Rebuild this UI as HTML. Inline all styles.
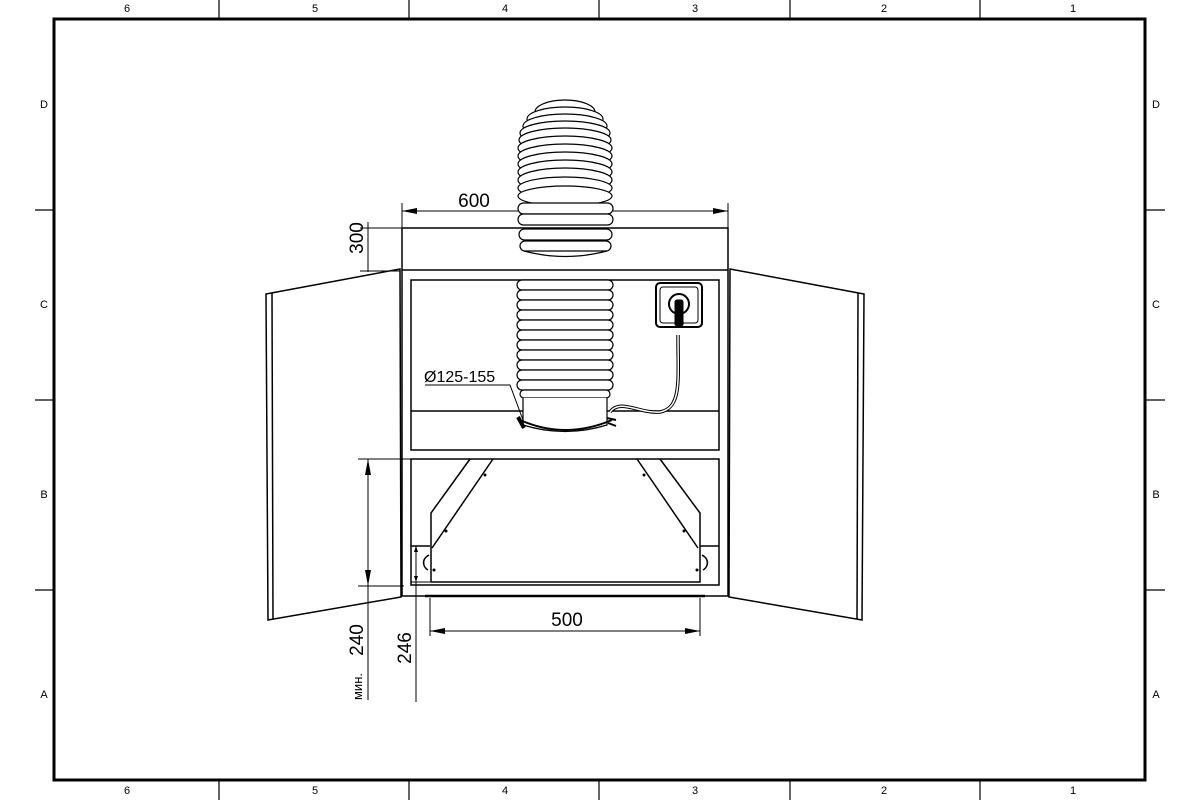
<!DOCTYPE html>
<html><head><meta charset="utf-8"><style>
html,body{margin:0;padding:0;background:#fff}
svg{display:block}
text{font-family:"Liberation Sans",sans-serif;fill:#000}
</style></head><body>
<svg width="1200" height="800" viewBox="0 0 1200 800" xmlns="http://www.w3.org/2000/svg">
<g fill="none" stroke="#000">
<!-- frame -->
<rect x="54" y="19" width="1091" height="761" stroke-width="3"/>
<g stroke-width="1.2">
<line x1="219" y1="0" x2="219" y2="19"/><line x1="409" y1="0" x2="409" y2="19"/><line x1="599" y1="0" x2="599" y2="19"/><line x1="790" y1="0" x2="790" y2="19"/><line x1="980" y1="0" x2="980" y2="19"/>
<line x1="219" y1="780" x2="219" y2="800"/><line x1="409" y1="780" x2="409" y2="800"/><line x1="599" y1="780" x2="599" y2="800"/><line x1="790" y1="780" x2="790" y2="800"/><line x1="980" y1="780" x2="980" y2="800"/>
<line x1="35" y1="210" x2="54" y2="210"/><line x1="35" y1="400" x2="54" y2="400"/><line x1="35" y1="590" x2="54" y2="590"/>
<line x1="1145" y1="210" x2="1165" y2="210"/><line x1="1145" y1="400" x2="1165" y2="400"/><line x1="1145" y1="590" x2="1165" y2="590"/>
</g>

<!-- doors -->
<g stroke-width="1.5">
<path d="M266,294 L400,269 L401,597 L268,620 Z"/>
<line x1="272" y1="293" x2="273" y2="619"/>
<path d="M864,294 L730,269 L729,597 L862,620 Z"/>
<line x1="858" y1="293" x2="857" y2="619"/>
</g>

<!-- top hose -->
<g stroke-width="1.2" fill="#fff">
<ellipse cx="565" cy="112" rx="30" ry="12"/>
<ellipse cx="565" cy="119" rx="38" ry="12"/>
<ellipse cx="565" cy="126" rx="42" ry="12"/>
<ellipse cx="565" cy="133" rx="45" ry="12"/>
<ellipse cx="565" cy="140" rx="46" ry="12"/>
<ellipse cx="565" cy="148" rx="47" ry="12"/>
<ellipse cx="565" cy="156" rx="47" ry="12"/>
<ellipse cx="565" cy="164" rx="47" ry="12"/>
<ellipse cx="565" cy="172" rx="47" ry="12"/>
<ellipse cx="565" cy="180" rx="47" ry="12"/>
<ellipse cx="565" cy="188" rx="47" ry="11"/>
<ellipse cx="565" cy="196" rx="47" ry="10"/>
<rect x="518" y="203" width="95" height="11" rx="5.5"/>
<rect x="518" y="214" width="95" height="11" rx="5.5"/>
<rect x="519" y="229" width="93" height="11" rx="5.5"/>
<rect x="520" y="241" width="91" height="10" rx="5"/>
<path d="M524,251 Q565,262 607,251" fill="none"/>
</g>

<!-- cabinet -->
<g stroke-width="1.5">
<rect x="402" y="228" width="326" height="368"/>
<line x1="402" y1="270" x2="728" y2="270"/>
<rect x="411" y="280" width="308" height="170"/>
<line x1="411" y1="411" x2="719" y2="411"/>
<rect x="411" y="459" width="308" height="126"/>
<line x1="411" y1="546" x2="430" y2="546"/><line x1="700" y1="546" x2="719" y2="546"/>
<line x1="425" y1="596" x2="705" y2="596" stroke-width="2.5"/>
</g>
<!-- hose passes over top panel lines -->
<rect x="518" y="204" width="95" height="47" fill="none" stroke="none"/>

<!-- hood -->
<g stroke-width="1.5">
<path d="M470,459 L431,513 L431,582 L700,582 L700,513 L660,459"/>
<path d="M493,459 L432,548"/><path d="M637,459 L698,548"/>
<path d="M429,555 C420,560 424,568 428,570"/><path d="M702,555 C711,560 707,568 703,570"/>
</g>
<g fill="#000" stroke="none">
<circle cx="485" cy="475" r="1.5"/><circle cx="446" cy="531" r="1.5"/><circle cx="434" cy="570" r="1.5"/>
<circle cx="644" cy="475" r="1.5"/><circle cx="684" cy="531" r="1.5"/><circle cx="697" cy="570" r="1.5"/>
</g>

<!-- lower hose -->
<g stroke-width="1.2" fill="#fff">
<rect x="517" y="280" width="96" height="10" rx="5"/>
<rect x="517" y="290" width="96" height="10" rx="5"/>
<rect x="517" y="300" width="96" height="10" rx="5"/>
<rect x="517" y="310" width="96" height="10" rx="5"/>
<rect x="517" y="320" width="96" height="10" rx="5"/>
<rect x="517" y="330" width="96" height="10" rx="5"/>
<rect x="517" y="340" width="96" height="10" rx="5"/>
<rect x="517" y="350" width="96" height="10" rx="5"/>
<rect x="517" y="360" width="96" height="10" rx="5"/>
<rect x="517" y="370" width="96" height="10" rx="5"/>
<rect x="517" y="380" width="96" height="10" rx="5"/>
<rect x="520" y="390" width="90" height="8" rx="4"/>
<path d="M523,398 L523,425 Q565,438 607,425 L607,398"/>
<path d="M520,420 Q565,440 612,420" fill="none" stroke-width="2"/>
</g>
<path d="M518,417 L524,428" stroke-width="4"/>
<!-- cable -->
<path d="M610,412 C620,398 640,414 660,412 C682,408 678,380 678,335" stroke-width="3.5"/>
<path d="M610,412 C620,398 640,414 660,412 C682,408 678,380 678,335" stroke-width="1.5" stroke="#fff"/>
<path d="M607,418 L616,420 M608,423 L616,426" stroke-width="2"/>
<!-- socket -->
<rect x="656" y="283" width="46" height="44" rx="4" stroke-width="2"/>
<rect x="660" y="287" width="38" height="36" rx="3" stroke-width="1"/>
<circle cx="679" cy="304" r="10" stroke-width="2"/>
<rect x="675" y="300" width="8" height="26" rx="2" fill="#000"/>

<!-- dimensions -->
<g stroke-width="1">
<line x1="402" y1="211" x2="518" y2="211"/><line x1="613" y1="211" x2="728" y2="211"/>
<line x1="402" y1="203" x2="402" y2="228"/><line x1="728" y1="203" x2="728" y2="228"/>
<line x1="368" y1="222" x2="368" y2="272"/><line x1="360" y1="228" x2="402" y2="228"/><line x1="360" y1="271" x2="400" y2="271"/>
<line x1="368" y1="459" x2="368" y2="700"/><line x1="358" y1="459" x2="411" y2="459"/><line x1="358" y1="586" x2="404" y2="586"/>
<line x1="416" y1="546" x2="416" y2="702"/><line x1="411" y1="546" x2="420" y2="546"/><line x1="411" y1="582" x2="430" y2="582"/>
<line x1="430" y1="598" x2="430" y2="636"/><line x1="700" y1="598" x2="700" y2="636"/>
<line x1="430" y1="631" x2="700" y2="631"/>
<path d="M425,385 L510,385 L523,420"/>
</g>
<g fill="#000" stroke="none">
<path d="M402,211 L417,208 L417,214 Z"/><path d="M728,211 L713,208 L713,214 Z"/>
<path d="M368,459 L365,475 L371,475 Z"/><path d="M368,586 L365,570 L371,570 Z"/>
<path d="M430,631 L445,628 L445,634 Z"/><path d="M700,631 L685,628 L685,634 Z"/>
<path d="M416,546 L414,552 L418,552 Z"/><path d="M416,582 L414,576 L418,576 Z"/>
</g>
</g>

<g font-size="11" text-anchor="middle">
<text x="127" y="12">6</text><text x="315" y="12">5</text><text x="505" y="12">4</text><text x="695" y="12">3</text><text x="884" y="12">2</text><text x="1073" y="12">1</text>
<text x="127" y="794">6</text><text x="315" y="794">5</text><text x="505" y="794">4</text><text x="695" y="794">3</text><text x="884" y="794">2</text><text x="1073" y="794">1</text>
<text x="44" y="108">D</text><text x="44" y="308">C</text><text x="44" y="498">B</text><text x="44" y="698">A</text>
<text x="1156" y="108">D</text><text x="1156" y="308">C</text><text x="1156" y="498">B</text><text x="1156" y="698">A</text>
</g>
<g font-size="19" text-anchor="middle">
<text x="474" y="207">600</text>
<text x="567" y="626">500</text>
<text transform="translate(363,238) rotate(-90)">300</text>
<text transform="translate(411,648) rotate(-90)">246</text>
<text transform="translate(363,640) rotate(-90)">240</text>
</g>
<text transform="translate(362,700) rotate(-90)" font-size="13">мин.</text>
<text x="424" y="382" font-size="16">Ø125-155</text>
</svg>
</body></html>
